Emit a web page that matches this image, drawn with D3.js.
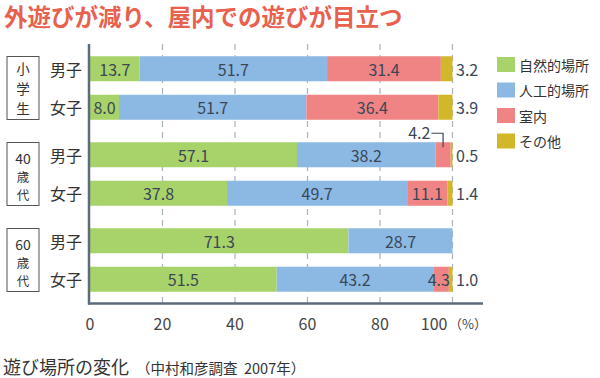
<!DOCTYPE html>
<html><head><meta charset="utf-8">
<script src="https://cdn.jsdelivr.net/npm/d3@7"></script>
<style>
html,body{margin:0;padding:0;background:#fff;}
text{font-family:"Noto Sans CJK JP","Noto Sans",sans-serif;white-space:pre;}
</style></head>
<body><svg id="c" width="600" height="378"></svg>
<script>
const title = "外遊びが減り、屋内での遊びが目立つ";
const caption = "遊び場所の変化";
const subCaption = "（中村和彦調査  2007年）";
const groups = ["小学生", "40歳代", "60歳代"];
const groupLines = [["小","学","生"], ["40","歳","代"], ["60","歳","代"]];
const sexes = ["男子", "女子"];
const seriesNames = ["自然的場所", "人工的場所", "室内", "その他"];
const nature     = [13.7,  8.0, 57.1, 37.8, 71.3, 51.5];
const artificial = [51.7, 51.7, 38.2, 49.7, 28.7, 43.2];
const indoor     = [31.4, 36.4,  4.2, 11.1,  0.0,  4.3];
const other      = [ 3.2,  3.9,  0.5,  1.4,  0.0,  1.0];
const ticks = [0, 20, 40, 60, 80, 100];
const colors = ["#a8d26a", "#8cb9e4", "#f08484", "#d3b72b"];

const svg = d3.select("#c");
const x = d3.scaleLinear().domain([0, 100]).range([90, 452.5]);
const gy = d3.scaleBand().domain(groups).range([45, 303]);
const ry = d3.scaleBand().domain(sexes).range([11.25, 74.75]).paddingInner(0.35);
const series = [nature, artificial, indoor, other];

// title
svg.append("text").attr("x", 4).attr("y", 26).attr("font-size", 23.5).attr("font-weight", "bold")
  .attr("fill", "#e8604e").text(title);

// gridlines
svg.append("g").selectAll("line").data(ticks.slice(1)).join("line")
  .attr("x1", d => x(d)).attr("x2", d => x(d)).attr("y1", 44).attr("y2", 303)
  .attr("stroke", "#a9b2bc").attr("stroke-width", 1.2).attr("stroke-dasharray", "6,5");

// rows
const rows = [];
groups.forEach((g, gi) => sexes.forEach((s, si) => rows.push({g, s, i: gi * 2 + si})));
const rowY = r => gy(r.g) + ry(r.s);
const bh = ry.bandwidth();

rows.forEach(r => {
  let acc = 0;
  series.forEach((arr, k) => {
    const v = arr[r.i];
    const x0 = x(acc), x1 = x(acc + v);
    acc += v;
    if (v <= 0) return;
    svg.append("rect").attr("x", x0).attr("y", rowY(r)).attr("width", x1 - x0).attr("height", bh)
      .attr("fill", colors[k]);
  });
});

// labels
const lab = (xx, yy, t, anchor) => svg.append("text").attr("x", xx).attr("y", yy)
  .attr("font-size", 16).attr("fill", "#3b4756").attr("text-anchor", anchor || "middle")
  .attr("dominant-baseline", "central").text(t);

rows.forEach(r => {
  let acc = 0;
  const cy = rowY(r) + bh / 2;
  series.forEach((arr, k) => {
    const v = arr[r.i];
    const x0 = x(acc), x1 = x(acc + v);
    acc += v;
    if (v <= 0) return;
    const t = v.toFixed(1);
    if (k === 3) {
      lab(x(100) + 3.5, cy, t, "start");
    } else if (k === 2 && v < 5) {
      if (r.i === 2) {
        const mx = (x0 + x1) / 2;
        const ty = rowY(r) - 10;
        lab(x0 - 5, ty, t, "end");
        svg.append("path").attr("d", `M${x0 - 4},${ty + 1}H${mx}V${rowY(r) + 5}`)
          .attr("fill", "none").attr("stroke", "#3b4756").attr("stroke-width", 1.2);
      } else {
        lab(x1 + 1, cy, t, "end");
      }
    } else {
      lab((x0 + x1) / 2, cy, t);
    }
  });
  // sex label
  svg.append("text").attr("x", 50).attr("y", cy).attr("font-size", 16).attr("fill", "#333")
    .attr("dominant-baseline", "central").text(r.s);
});

// group boxes (stacked lines)
groups.forEach((g, gi) => {
  const c = gy(g) + gy.bandwidth() / 2;
  svg.append("rect").attr("x", 7).attr("y", c - 31.5).attr("width", 32).attr("height", 63)
    .attr("fill", "none").attr("stroke", "#555").attr("stroke-width", 1);
  const lines = groupLines[gi];
  const offs = gi === 0 ? [-19.6, 0, 19.6] : [-16.5, 2.5, 20.8];
  const sizes = gi === 0 ? [13.5, 13.5, 13.5] : [14, 12.5, 12.5];
  lines.forEach((s, li) => {
    svg.append("text").attr("x", 23).attr("y", c + offs[li]).attr("text-anchor", "middle")
      .attr("dominant-baseline", "central").attr("fill", "#333")
      .attr("font-size", sizes[li]).text(s);
  });
});

// axes
svg.append("line").attr("x1", 89).attr("x2", 89).attr("y1", 44).attr("y2", 304.5)
  .attr("stroke", "#5b6c7c").attr("stroke-width", 2.5);
svg.append("line").attr("x1", 88).attr("x2", 483).attr("y1", 303.5).attr("y2", 303.5)
  .attr("stroke", "#5b6c7c").attr("stroke-width", 2.5);

// tick labels
svg.append("g").selectAll("text").data(ticks).join("text")
  .attr("x", d => d === 100 ? x(d) - 5 : x(d))
  .attr("y", 323).attr("dominant-baseline", "central")
  .attr("text-anchor", d => d === 100 ? "end" : "middle")
  .attr("font-size", 16).attr("fill", "#444").text(d => d);
svg.append("text").attr("x", 453).attr("y", 323).attr("dominant-baseline", "central")
  .attr("font-size", 13).attr("fill", "#444").text("（%）").attr("dx", -4);

// legend
const lg = svg.append("g").selectAll("g").data(seriesNames).join("g")
  .attr("transform", (d, i) => `translate(497,${57 + i * 25.5})`);
lg.append("rect").attr("width", 18).attr("height", 15).attr("fill", (d, i) => colors[i]);
lg.append("text").attr("x", 22).attr("y", 7.5).attr("dominant-baseline", "central")
  .attr("font-size", 14).attr("fill", "#333").text(d => d);

// caption
svg.append("text").attr("x", 3).attr("y", 366).attr("dominant-baseline", "central")
  .attr("font-size", 18).attr("fill", "#333").text(caption);
svg.append("text").attr("x", 136).attr("y", 367).attr("dominant-baseline", "central")
  .attr("font-size", 14.5).attr("fill", "#333").text(subCaption);
</script></body></html>
